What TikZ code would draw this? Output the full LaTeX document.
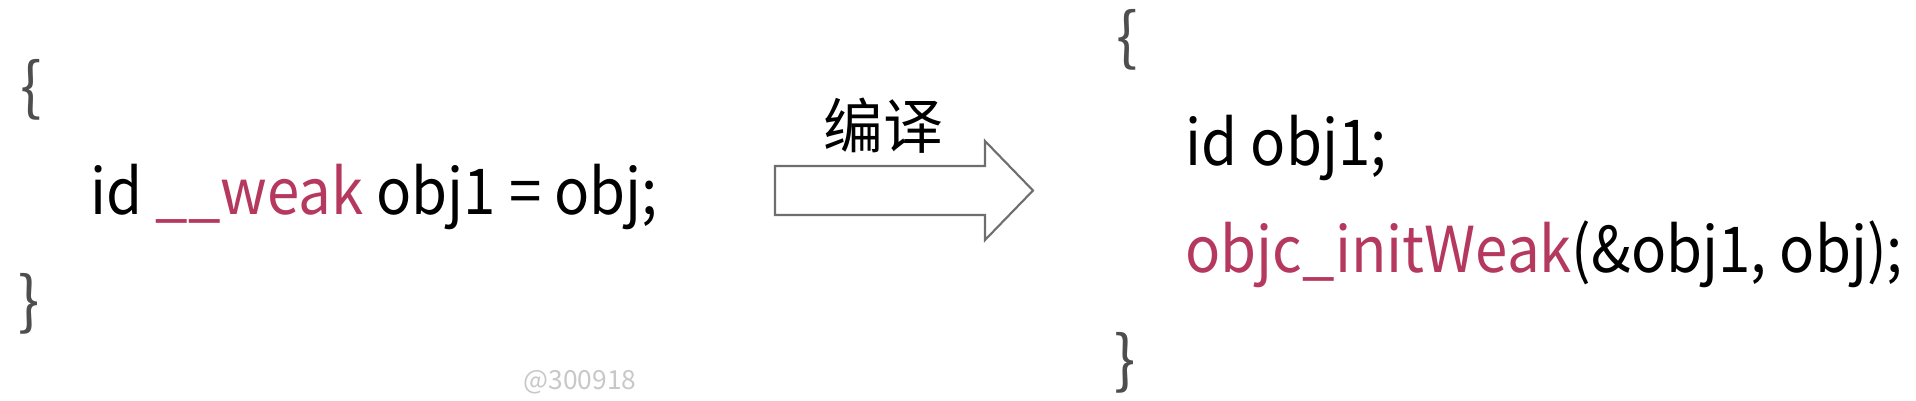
\documentclass[tikz,border=0pt]{standalone}
\usepackage{fontspec}
\setmainfont{Noto Sans CJK SC}
\newfontfamily\cjk{Noto Sans CJK SC}
\newfontfamily\codefont{Noto Sans CJK SC}[FakeStretch=0.92]

\definecolor{kwred}{RGB}{181,57,94}
\definecolor{bracegray}{RGB}{78,78,78}
\definecolor{arrowgray}{RGB}{110,110,110}
\definecolor{markgray}{RGB}{200,200,200}

\tikzset{
	code/.style={inner sep=0pt,anchor=base west,font=\codefont\fontsize{18}{22}\selectfont},
	curly/.style={inner sep=0pt,text=bracegray,font=\fontsize{18}{22}\selectfont},
}

\def\kw#1{\textcolor{kwred}{#1}}

\begin{document}
\begin{tikzpicture}
			\useasboundingbox (0,0) rectangle (19.16,4);

			% before
			\node[curly] (lopen) at (0.31,3.105) {\{};
			\node[code] (lline) at (0.90,1.86) {id \kw{\_\_weak} obj1 = obj;};
			\node[curly] (lclose) at (0.29,0.96) {\}};

			% compile arrow
			\draw[arrowgray,line width=0.6pt,fill=white]
				(7.75,2.34) -- (9.85,2.34) -- (9.85,2.59) -- (10.33,2.095)
				-- (9.85,1.60) -- (9.85,1.85) -- (7.75,1.85) -- cycle;
			\node[inner sep=0pt,font=\cjk\fontsize{17}{20}\selectfont] (compile) at (8.83,2.74) {编译};

			% after
			\node[curly] (ropen) at (11.27,3.60) {\{};
			\node[code] (rdecl) at (11.85,2.35) {id obj1;};
			\node[code] (rinit) at (11.85,1.28) {\kw{objc\_initWeak}(\&obj1, obj);};
			\node[curly] (rclose) at (11.255,0.37) {\}};

			% watermark
			\node[inner sep=0pt,text=markgray,font=\fontsize{7.5}{9}\selectfont] (mark) at (5.80,0.18) {@300918};
\end{tikzpicture}
\end{document}
